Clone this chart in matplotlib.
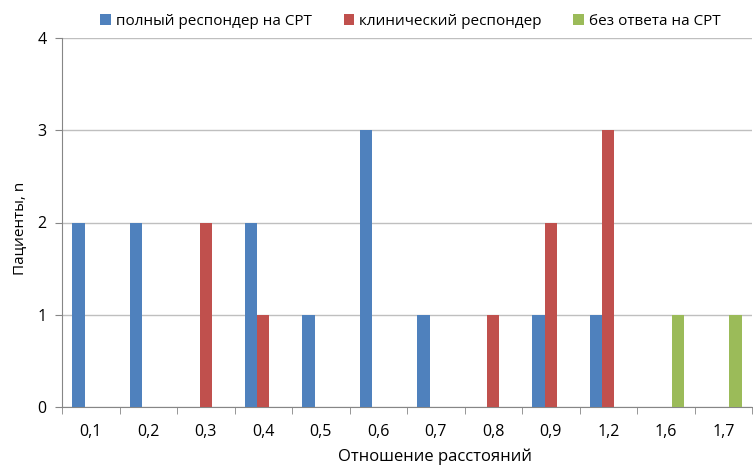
import numpy as np
import matplotlib.pyplot as plt

plt.rcParams['font.family'] = ['Open Sans', 'DejaVu Sans']

categories = ["0,1", "0,2", "0,3", "0,4", "0,5", "0,6", "0,7", "0,8", "0,9", "1,2", "1,6", "1,7"]
full_resp = [2, 2, 0, 2, 1, 3, 1, 0, 1, 1, 0, 0]
clin_resp = [0, 0, 2, 1, 0, 0, 0, 1, 2, 3, 0, 0]
no_resp = [0, 0, 0, 0, 0, 0, 0, 0, 0, 0, 1, 1]
series_names = ["полный респондер на СРТ", "клинический респондер", "без ответа на СРТ"]
colors = ["#4F81BD", "#C0504D", "#9BBB59"]

fig = plt.figure(figsize=(7.53, 4.68), dpi=100)
ax = fig.add_axes([62 / 753, 1 - 407 / 468, 690 / 753, 369 / 468])

x = np.arange(len(categories))
w = 0.215
for i, (vals, name, c) in enumerate(zip([full_resp, clin_resp, no_resp], series_names, colors)):
    ax.bar(x + (i - 1) * w, vals, width=w, color=c, label=name, zorder=3)

ax.set_xlim(-0.5, len(categories) - 0.5)
ax.set_ylim(0, 4)
ax.set_yticks(range(5))
ax.set_yticklabels([str(v) for v in range(5)], fontsize=11.5)
ax.set_xticks(x)
ax.set_xticklabels(categories, fontsize=11.5)
ax.set_xticks(np.arange(-0.5, len(categories)), minor=True)
ax.tick_params(axis='x', which='major', length=0, pad=12)
ax.tick_params(axis='x', which='minor', length=5, color='#868686', direction='out')
ax.tick_params(axis='y', length=5, color='#868686', pad=6)

ax.grid(axis='y', color='#BFBFBF', linewidth=1, zorder=0)
for s in ['top', 'right']:
    ax.spines[s].set_visible(False)
for s in ['left', 'bottom']:
    ax.spines[s].set_color('#868686')

ax.set_ylabel("Пациенты, n", fontsize=11)
ax.yaxis.label.set_va('center')
ax.yaxis.set_label_coords(-0.061, 0.485)
ax.set_xlabel("Отношение расстояний", fontsize=12)
ax.xaxis.label.set_va('center')
ax.xaxis.set_label_coords(0.5406, -0.1355)

fig.legend(loc='upper center', bbox_to_anchor=(0.545, 1.0), ncol=3, frameon=False,
           fontsize=11, handlelength=0.7, handleheight=0.7, handletextpad=0.3, columnspacing=2.1)

fig.savefig("out.png", dpi=100)
